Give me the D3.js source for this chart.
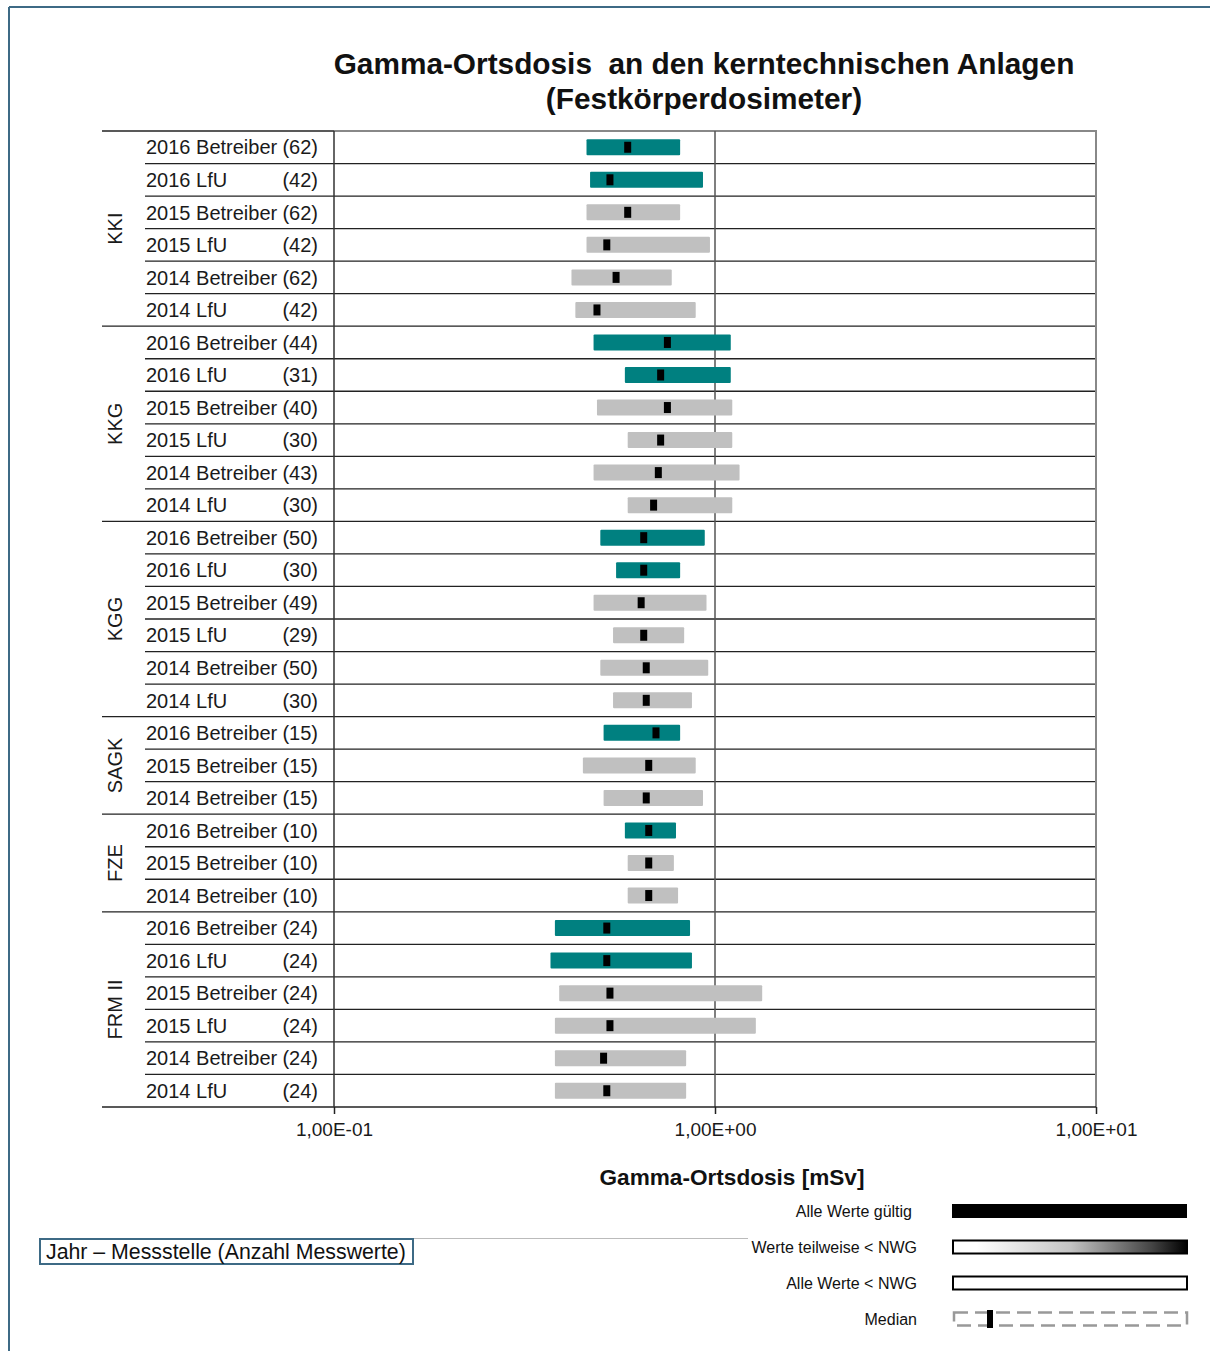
<!DOCTYPE html>
<html><head><meta charset="utf-8">
<script src="https://cdn.jsdelivr.net/npm/d3@7"></script>
<style>
html,body{margin:0;padding:0;background:#fff;}
svg{display:block;font-family:"Liberation Sans",Arial,sans-serif;}
</style></head>
<body>
<svg id="chart" width="1210" height="1351"></svg>
<script>
// ---------- data ----------
const stations = ["KKI","KKI","KKI","KKI","KKI","KKI","KKG","KKG","KKG","KKG","KKG","KKG","KGG","KGG","KGG","KGG","KGG","KGG","SAGK","SAGK","SAGK","FZE","FZE","FZE","FRM II","FRM II","FRM II","FRM II","FRM II","FRM II"];
const years = ["2016","2016","2015","2015","2014","2014","2016","2016","2015","2015","2014","2014","2016","2016","2015","2015","2014","2014","2016","2015","2014","2016","2015","2014","2016","2016","2015","2015","2014","2014"];
const sources = ["Betreiber","LfU","Betreiber","LfU","Betreiber","LfU","Betreiber","LfU","Betreiber","LfU","Betreiber","LfU","Betreiber","LfU","Betreiber","LfU","Betreiber","LfU","Betreiber","Betreiber","Betreiber","Betreiber","Betreiber","Betreiber","Betreiber","LfU","Betreiber","LfU","Betreiber","LfU"];
const counts = [62,42,62,42,62,42,44,31,40,30,43,30,50,30,49,29,50,30,15,15,15,10,10,10,24,24,24,24,24,24];
const minValues = [0.46,0.47,0.46,0.46,0.42,0.43,0.48,0.58,0.49,0.59,0.48,0.59,0.50,0.55,0.48,0.54,0.50,0.54,0.51,0.45,0.51,0.58,0.59,0.59,0.38,0.37,0.39,0.38,0.38,0.38];
const maxValues = [0.81,0.93,0.81,0.97,0.77,0.89,1.10,1.10,1.11,1.11,1.16,1.11,0.94,0.81,0.95,0.83,0.96,0.87,0.81,0.89,0.93,0.79,0.78,0.80,0.86,0.87,1.33,1.28,0.84,0.84];
const medians = [0.59,0.53,0.59,0.52,0.55,0.49,0.75,0.72,0.75,0.72,0.71,0.69,0.65,0.65,0.64,0.65,0.66,0.66,0.70,0.67,0.66,0.67,0.67,0.67,0.52,0.52,0.53,0.53,0.51,0.52];
const tickValues = [0.1, 1, 10];
const tickLabels = ["1,00E-01", "1,00E+00", "1,00E+01"];
const legendLabels = ["Alle Werte gültig", "Werte teilweise < NWG", "Alle Werte < NWG", "Median"];

// ---------- layout ----------
const svg = d3.select("#chart");
const L = 334, R = 1096, T = 131, B = 1107;
const TEAL = "#008080", GREY = "#c0c0c0";

const x = d3.scaleLog().domain([0.1, 10]).range([L, R]);
const idx = d3.range(stations.length);
const y = d3.scaleBand().domain(idx).range([T, B]).paddingInner(0).paddingOuter(0);
const bw = y.bandwidth();

// outer frame
svg.append("line").attr("x1",9).attr("x2",1210).attr("y1",7).attr("y2",7).attr("stroke","#3d6a85").attr("stroke-width",2);
svg.append("line").attr("x1",9).attr("x2",9).attr("y1",7).attr("y2",1351).attr("stroke","#3d6a85").attr("stroke-width",2);

// title
const title = svg.append("text").attr("x",704).attr("font-weight","bold").attr("font-size",29.8).attr("fill","#111").attr("text-anchor","middle").style("white-space","pre");
title.append("tspan").attr("x",704).attr("y",74).text("Gamma-Ortsdosis  an den kerntechnischen Anlagen");
title.append("tspan").attr("x",704).attr("y",109).text("(Festkörperdosimeter)");

// group spans
const groups = [];
idx.forEach(i => {
  if (!groups.length || groups[groups.length-1].name !== stations[i]) groups.push({name: stations[i], start: i, end: i});
  else groups[groups.length-1].end = i;
});

// row separators
idx.forEach(i => {
  if (i === 0) return;
  const isGroup = stations[i] !== stations[i-1];
  svg.append("line").attr("x1", isGroup ? 102 : 145).attr("x2", R)
    .attr("y1", y(i)).attr("y2", y(i)).attr("stroke","#222").attr("stroke-width",1.3);
});
// top line
svg.append("line").attr("x1",102).attr("x2",L).attr("y1",T).attr("y2",T).attr("stroke","#222").attr("stroke-width",1.3);
svg.append("line").attr("x1",L).attr("x2",R+1).attr("y1",T).attr("y2",T).attr("stroke","#888").attr("stroke-width",2);
// right border
svg.append("line").attr("x1",R).attr("x2",R).attr("y1",T).attr("y2",B).attr("stroke","#888").attr("stroke-width",2);
// gridline at 1
svg.append("line").attr("x1",x(1)).attr("x2",x(1)).attr("y1",T).attr("y2",B).attr("stroke","#555").attr("stroke-width",1.5);

// bars
svg.append("g").selectAll("rect").data(idx).join("rect")
  .attr("x", i => x(minValues[i]))
  .attr("width", i => x(maxValues[i]) - x(minValues[i]))
  .attr("y", i => y(i) + bw/2 - 8)
  .attr("height", 16)
  .attr("rx", 1)
  .attr("fill", i => years[i] === "2016" ? TEAL : GREY);

// medians
svg.append("g").selectAll("rect").data(idx).join("rect")
  .attr("x", i => x(medians[i]) - 3.5)
  .attr("width", 7)
  .attr("y", i => y(i) + bw/2 - 5.5)
  .attr("height", 11)
  .attr("fill", "#000");

// row labels
const lab = svg.append("g").attr("font-size",20).attr("fill","#1a1a1a");
idx.forEach(i => {
  lab.append("text").attr("x",146).attr("y", y(i)+bw/2).attr("dy","0.36em").text(years[i] + " " + sources[i]);
  lab.append("text").attr("x",318).attr("y", y(i)+bw/2).attr("dy","0.36em").attr("text-anchor","end").text("(" + counts[i] + ")");
});

// group labels
groups.forEach(g => {
  const cy = (y(g.start) + y(g.end) + bw) / 2;
  svg.append("text").attr("transform", `translate(122,${cy}) rotate(-90)`)
    .attr("text-anchor","middle").attr("font-size",20).attr("fill","#1a1a1a").text(g.name);
});

// x axis
const axis = d3.axisBottom(x).tickValues(tickValues).tickFormat((d,i) => tickLabels[i]).tickSize(7).tickPadding(9);
const ax = svg.append("g").attr("transform", `translate(0,${B})`).call(axis);
ax.select(".domain").remove();
ax.selectAll(".tick line").attr("stroke","#222").attr("stroke-width",1.5);
ax.selectAll(".tick text").attr("font-size",19).attr("fill","#1a1a1a").attr("font-family","Liberation Sans, Arial, sans-serif");
// bottom line & left axis
svg.append("line").attr("x1",102).attr("x2",R).attr("y1",B).attr("y2",B).attr("stroke","#222").attr("stroke-width",1.5);
svg.append("line").attr("x1",L).attr("x2",L).attr("y1",T).attr("y2",B).attr("stroke","#333").attr("stroke-width",1.5);

// axis title
svg.append("text").attr("x",732).attr("y",1185).attr("text-anchor","middle").attr("font-weight","bold").attr("font-size",22.6).attr("fill","#111").text("Gamma-Ortsdosis [mSv]");

// box label
svg.append("line").attr("x1",60).attr("x2",748).attr("y1",1238.5).attr("y2",1238.5).attr("stroke","#bbb").attr("stroke-width",1);
svg.append("rect").attr("x",40).attr("y",1239).attr("width",373).attr("height",25).attr("fill","#fff").attr("stroke","#3d6a85").attr("stroke-width",2);
svg.append("text").attr("x",46).attr("y",1258.5).attr("font-size",21.3).attr("fill","#111").text("Jahr – Messstelle (Anzahl Messwerte)");

// legend
const defs = svg.append("defs");
const grad = defs.append("linearGradient").attr("id","grad").attr("x1","0").attr("x2","1").attr("y1","0").attr("y2","0");
[[0,"#fff"],[0.1,"#fff"],[0.5,"#c4c4c4"],[0.85,"#444"],[1,"#000"]].forEach(s => grad.append("stop").attr("offset",s[0]).attr("stop-color",s[1]));

const legY = [1211, 1247, 1283, 1319];
const lg = svg.append("g").attr("font-size",16).attr("fill","#111");
legendLabels.forEach((t,i) => {
  lg.append("text").attr("x", i === 0 ? 912 : 917).attr("y", legY[i]).attr("dy","0.35em").attr("text-anchor","end").text(t);
});
svg.append("rect").attr("x",952).attr("y",legY[0]-7).attr("width",235).attr("height",14).attr("fill","#000");
svg.append("rect").attr("x",953).attr("y",legY[1]-6.5).attr("width",234).attr("height",13).attr("fill","url(#grad)").attr("stroke","#000").attr("stroke-width",2);
svg.append("rect").attr("x",953).attr("y",legY[2]-6.5).attr("width",234).attr("height",13).attr("fill","#fff").attr("stroke","#000").attr("stroke-width",2);
svg.append("rect").attr("x",954).attr("y",legY[3]-6.5).attr("width",233).attr("height",13).attr("fill","none").attr("stroke","#999").attr("stroke-width",2.5).attr("stroke-dasharray","14,7");
svg.append("rect").attr("x",987).attr("y",legY[3]-9).attr("width",6).attr("height",18).attr("fill","#000");
</script>
</body></html>
